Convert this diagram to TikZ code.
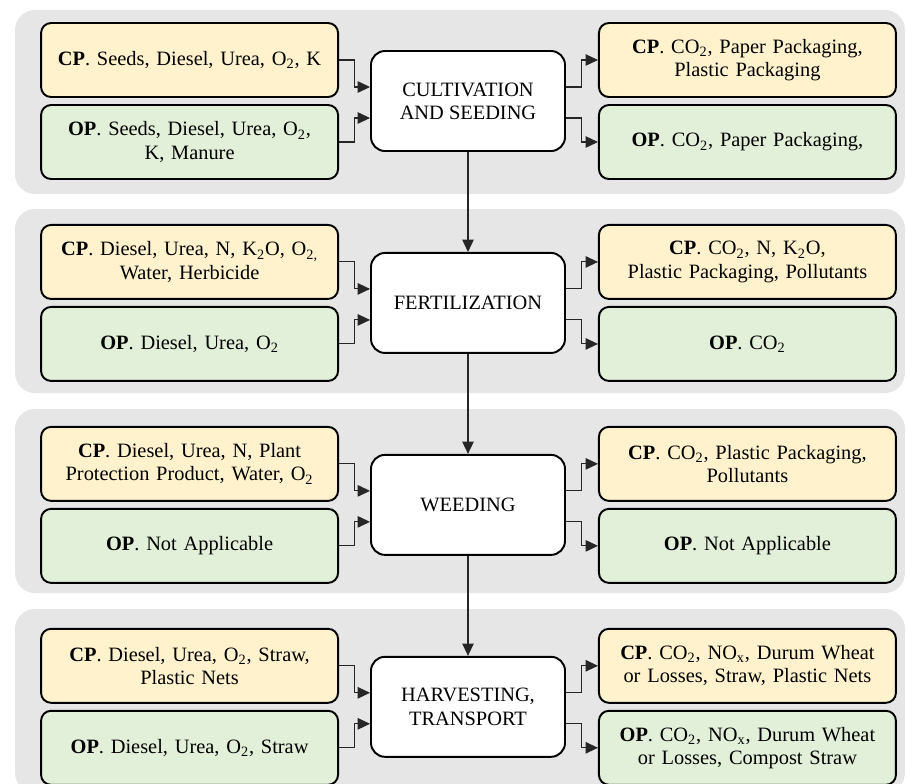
\documentclass[tikz,border=0pt]{standalone}
\usepackage{fontspec}
\setmainfont{Liberation Serif}
\usetikzlibrary{positioning,arrows.meta}
\definecolor{bandgray}{HTML}{E7E6E6}
\definecolor{cpfill}{HTML}{FFF2CC}
\definecolor{opfill}{HTML}{E2EFD9}

\begin{document}
\begin{tikzpicture}[
    font=\fontsize{11.6}{13.2}\selectfont,
    band/.style={fill=bandgray, rounded corners=0.4cm},
    stage/.style={draw, line width=1.1pt, fill=white, rounded corners=0.28cm,
        minimum width=3.88cm, minimum height=2cm, align=center, inner sep=0pt},
    cpbox/.style={draw, line width=1.1pt, fill=cpfill, rounded corners=0.2cm,
        minimum width=5.94cm, minimum height=1.48cm, text width=5.7cm, align=center, inner sep=0pt},
    opbox/.style={cpbox, fill=opfill},
    flow/.style={-{Triangle[length=7pt,width=6.5pt]}, line width=0.6pt, black!85}]
    \useasboundingbox (0,0) rectangle (18.12,-15.66);
    \foreach \t in {0.2,4.18,8.18,12.18}
        \fill[band] (0.3,-\t) rectangle ++(17.8,-3.68);

    \node[stage] (cult) at (9.36,-2.02) {CULTIVATION\\AND SEEDING};
    \node[stage, below=2cm of cult] (fert) {FERTILIZATION};
    \node[stage, below=2cm of fert] (weed) {WEEDING};
    \node[stage, below=2cm of weed] (harv) {HARVESTING,\\TRANSPORT};

    \node[cpbox, left=0.62cm of cult, yshift=0.82cm] (cult-cpin) {\textbf{CP}. Seeds, Diesel, Urea, O\textsubscript{2}, K};
    \node[opbox, left=0.62cm of cult, yshift=-0.82cm] (cult-opin) {\textbf{OP}. Seeds, Diesel, Urea, O\textsubscript{2},\\K, Manure};
    \node[cpbox, right=0.64cm of cult, yshift=0.82cm] (cult-cpout) {\textbf{CP}. CO\textsubscript{2}, Paper Packaging,\\Plastic Packaging};
    \node[opbox, right=0.64cm of cult, yshift=-0.82cm] (cult-opout) {\textbf{OP}. CO\textsubscript{2}, Paper Packaging,};

    \node[cpbox, left=0.62cm of fert, yshift=0.82cm] (fert-cpin) {\textbf{CP}. Diesel, Urea, N, K\textsubscript{2}O, O\textsubscript{2,}\\Water, Herbicide};
    \node[opbox, left=0.62cm of fert, yshift=-0.82cm] (fert-opin) {\textbf{OP}. Diesel, Urea, O\textsubscript{2}};
    \node[cpbox, right=0.64cm of fert, yshift=0.82cm] (fert-cpout) {\textbf{CP}. CO\textsubscript{2}, N, K\textsubscript{2}O,\\Plastic Packaging, Pollutants};
    \node[opbox, right=0.64cm of fert, yshift=-0.82cm] (fert-opout) {\textbf{OP}. CO\textsubscript{2}};

    \node[cpbox, left=0.62cm of weed, yshift=0.82cm] (weed-cpin) {\textbf{CP}. Diesel, Urea, N, Plant\\Protection Product, Water, O\textsubscript{2}};
    \node[opbox, left=0.62cm of weed, yshift=-0.82cm] (weed-opin) {\textbf{OP}. Not Applicable};
    \node[cpbox, right=0.64cm of weed, yshift=0.82cm] (weed-cpout) {\textbf{CP}. CO\textsubscript{2}, Plastic Packaging,\\Pollutants};
    \node[opbox, right=0.64cm of weed, yshift=-0.82cm] (weed-opout) {\textbf{OP}. Not Applicable};

    \node[cpbox, left=0.62cm of harv, yshift=0.82cm] (harv-cpin) {\textbf{CP}. Diesel, Urea, O\textsubscript{2}, Straw,\\Plastic Nets};
    \node[opbox, left=0.62cm of harv, yshift=-0.82cm] (harv-opin) {\textbf{OP}. Diesel, Urea, O\textsubscript{2}, Straw};
    \node[cpbox, right=0.64cm of harv, yshift=0.82cm] (harv-cpout) {\textbf{CP}. CO\textsubscript{2}, NO\textsubscript{x}, Durum Wheat\\or Losses, Straw, Plastic Nets};
    \node[opbox, right=0.64cm of harv, yshift=-0.82cm] (harv-opout) {\textbf{OP}. CO\textsubscript{2}, NO\textsubscript{x}, Durum Wheat\\or Losses, Compost Straw};

    \foreach \s in {cult,fert,weed,harv} {
        \draw[flow] (\s-cpin.east) -- ++(0.3,0) |- ([yshift=0.28cm]\s.west);
        \draw[flow] (\s-opin.east) -- ++(0.3,0) |- ([yshift=-0.34cm]\s.west);
        \draw[flow] ([yshift=0.28cm]\s.east) -- ++(0.32,0) |- (\s-cpout.west);
        \draw[flow] ([yshift=-0.34cm]\s.east) -- ++(0.32,0) |- (\s-opout.west);
    }
    \draw[flow] (cult) -- (fert);
    \draw[flow] (fert) -- (weed);
    \draw[flow] (weed) -- (harv);
\end{tikzpicture}
\end{document}
